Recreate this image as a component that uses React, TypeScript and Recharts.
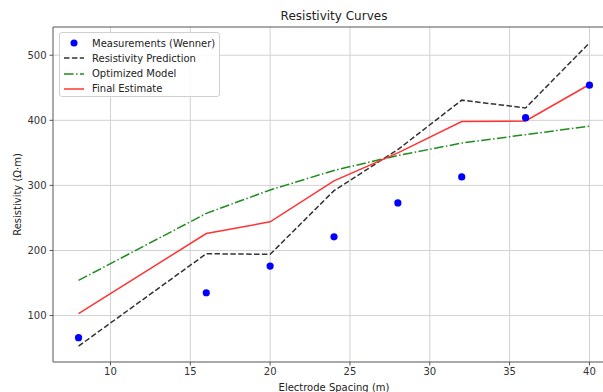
import React from "react";
import {
  ComposedChart,
  Line,
  Scatter,
  XAxis,
  YAxis,
  CartesianGrid,
  ReferenceLine,
} from "recharts";

const spacing = [8, 16, 20, 24, 28, 32, 36, 40];
const measurements = [66, 135, 176, 221, 273, 313, 404, 454];
const prediction = [53, 195, 194, 292, 355, 431, 419, 519];
const optimized = [154, 257, 293, 323, 346, 365, 378, 391];
const finalEstimate = [103, 226, 244, 307, 350, 398, 399, 455];
const xTicks = [10, 15, 20, 25, 30, 35, 40];
const yTicks = [100, 200, 300, 400, 500];

const data = spacing.map((x, i) => ({
  x,
  pred: prediction[i],
  opt: optimized[i],
  fin: finalEstimate[i],
}));
const scatterData = spacing.map((x, i) => ({ x, meas: measurements[i] }));

const FONT = "'DejaVu Sans', sans-serif";

const legendItems = [
  { label: "Measurements (Wenner)", kind: "dot", color: "blue" },
  { label: "Resistivity Prediction", kind: "line", color: "#333", dash: "5.5 2.4" },
  { label: "Optimized Model", kind: "line", color: "#1e8c1e", dash: "9.6 2.4 1.5 2.4" },
  { label: "Final Estimate", kind: "line", color: "#ff3333", dash: undefined },
];

const LegendBox = () => (
  <div
    style={{
      position: "absolute",
      left: 59,
      top: 32,
      width: 159,
      height: 63,
      border: "1px solid #d0d0d0",
      borderRadius: 3,
      background: "rgba(255,255,255,0.85)",
      fontFamily: FONT,
      fontSize: 10,
      color: "#222",
    }}
  >
    {legendItems.map((it, i) => (
      <div
        key={it.label}
        style={{
          position: "absolute",
          left: 3,
          top: 3 + i * 15.3,
          height: 14,
          display: "flex",
          alignItems: "center",
          whiteSpace: "nowrap",
        }}
      >
        <svg width={22} height={14} style={{ marginRight: 7 }}>
          {it.kind === "dot" ? (
            <circle cx={11} cy={7} r={3.5} fill={it.color} />
          ) : (
            <line
              x1={1}
              x2={21}
              y1={7}
              y2={7}
              stroke={it.color}
              strokeWidth={1.5}
              strokeDasharray={it.dash}
            />
          )}
        </svg>
        <span>{it.label}</span>
      </div>
    ))}
  </div>
);

const Dot = (p: any) => <circle cx={p.cx} cy={p.cy} r={3.6} fill="blue" />;

export default function App() {
  return (
    <div
      style={{
        position: "fixed",
        left: 0,
        top: 0,
        width: 603,
        height: 392,
        overflow: "hidden",
        background: "#fff",
      }}
    >
      <div
        style={{
          position: "absolute",
          left: 234,
          width: 200,
          top: 9,
          textAlign: "center",
          fontFamily: FONT,
          fontSize: 12,
          color: "#222",
        }}
      >
        Resistivity Curves
      </div>
      <div style={{ position: "absolute", left: 0, top: 0 }}>
        <ComposedChart
          width={625}
          height={392}
          data={data}
          margin={{ top: 27, right: 10, bottom: 0, left: 0 }}
          style={{ fontFamily: FONT }}
        >
          <CartesianGrid stroke="#d2d2d2" strokeWidth={1} horizontalValues={yTicks} verticalValues={xTicks} />
          <XAxis
            type="number"
            dataKey="x"
            domain={[6.4, 41.6]}
            ticks={xTicks}
            allowDataOverflow
            height={30}
            tickSize={3.5}
            tickMargin={2}
            stroke="#555"
            tick={{ fill: "#333", fontSize: 10, fontFamily: FONT }}
            label={{
              value: "Electrode Spacing (m)",
              position: "insideBottom",
              offset: 1,
              style: { fill: "#222", fontSize: 10, fontFamily: FONT },
            }}
          />
          <YAxis
            type="number"
            domain={[28.6, 543.4]}
            ticks={yTicks}
            allowDataOverflow
            width={53}
            tickSize={3.5}
            tickMargin={3}
            stroke="#555"
            tick={{ fill: "#333", fontSize: 10, fontFamily: FONT }}
            label={{
              value: "Resistivity (Ω·m)",
              angle: -90,
              position: "insideLeft",
              offset: 17,
              style: { textAnchor: "middle", fill: "#222", fontSize: 10, fontFamily: FONT },
            }}
          />
          <ReferenceLine y={543.4} stroke="#555" strokeWidth={1} />
          <Line
            dataKey="pred"
            stroke="#333"
            strokeWidth={1.5}
            strokeDasharray="5.5 2.4"
            dot={false}
            isAnimationActive={false}
          />
          <Line
            dataKey="opt"
            stroke="#1e8c1e"
            strokeWidth={1.5}
            strokeDasharray="9.6 2.4 1.5 2.4"
            dot={false}
            isAnimationActive={false}
          />
          <Line
            dataKey="fin"
            stroke="#ff3333"
            strokeWidth={1.5}
            dot={false}
            isAnimationActive={false}
          />
          <Scatter
            data={scatterData}
            dataKey="meas"
            shape={Dot}
            isAnimationActive={false}
            legendType="none"
          />
        </ComposedChart>
      </div>
      <LegendBox />
    </div>
  );
}
